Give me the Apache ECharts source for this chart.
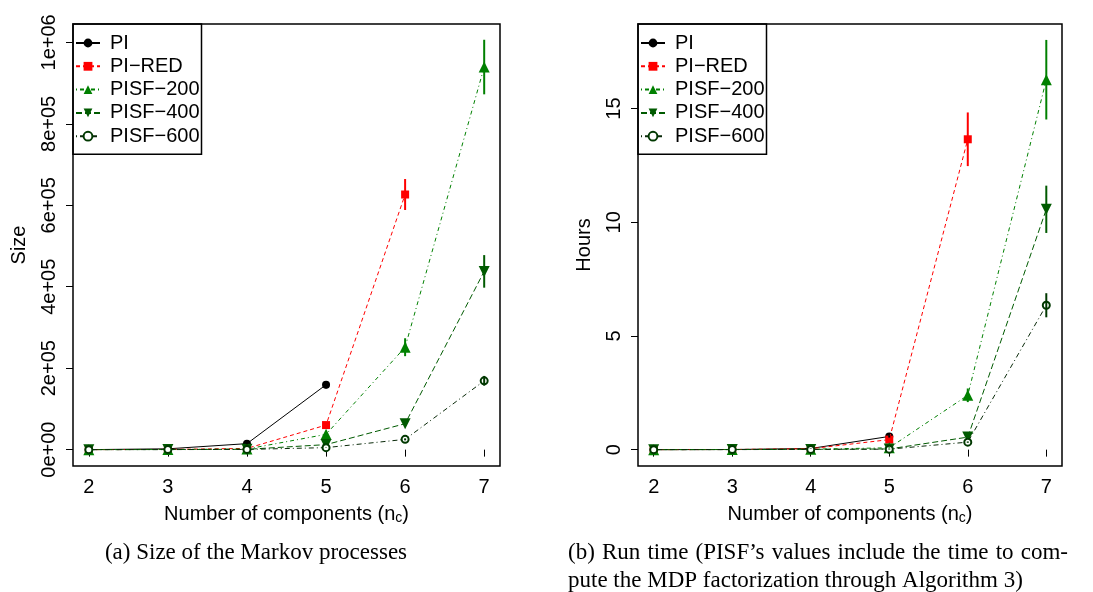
<!DOCTYPE html>
<html>
<head>
<meta charset="utf-8">
<script src="https://cdn.jsdelivr.net/npm/echarts@6/dist/echarts.min.js"></script>
<style>
html, body { margin: 0; padding: 0; background: #fff; }
#main { width: 1093px; height: 592px; }
</style>
</head>
<body>
<div id="main"></div>
<script>
// number of components
var nc = [2, 3, 4, 5, 6, 7];
var names = ['PI', 'PI\u2212RED', 'PISF\u2212200', 'PISF\u2212400', 'PISF\u2212600'];

// (a) size of the Markov processes
var sizePI = [0, 2000, 14700, 159300];
var sizePIRED = [0, 500, 3000, 60300, 626500];
var sizePISF200 = [0, 300, 1500, 37500, 251500, 939500];
var sizePISF400 = [0, 200, 800, 12300, 63700, 437700];
var sizePISF600 = [0, 100, 500, 4900, 25200, 169000];
var sizeErrPI = [0, 0, 1500, 9000];
var sizeErrPIRED = [0, 0, 0, 4000, 38000];
var sizeErrPISF200 = [0, 0, 0, 3000, 22000, 67000];
var sizeErrPISF400 = [0, 0, 0, 1000, 5000, 40000];
var sizeErrPISF600 = [0, 0, 0, 500, 2500, 12000];
var sizeTicks = [0, 200000, 400000, 600000, 800000, 1000000];

// (b) run time in hours
var hoursPI = [0, 0.005, 0.05, 0.58];
var hoursPIRED = [0, 0.005, 0.04, 0.44, 13.65];
var hoursPISF200 = [0, 0.005, 0.02, 0.08, 2.39, 16.27];
var hoursPISF400 = [0, 0.003, 0.01, 0.03, 0.55, 10.57];
var hoursPISF600 = [0, 0.002, 0.01, 0.02, 0.33, 6.35];
var hoursErrPI = [0, 0, 0.01, 0.05];
var hoursErrPIRED = [0, 0, 0, 0.05, 1.18];
var hoursErrPISF200 = [0, 0, 0, 0.02, 0.3, 1.75];
var hoursErrPISF400 = [0, 0, 0, 0.01, 0.05, 1.04];
var hoursErrPISF600 = [0, 0, 0, 0.01, 0.03, 0.53];
var hoursTicks = [0, 5, 10, 15];

var FONT = 'Liberation Sans';
var SERIF = 'Liberation Serif';

// look of each method
var styles = [
	{ color: '#000000', symbol: 'circle', size: 8, rotate: 0, dash: 'solid' },
	{ color: '#ff0000', symbol: 'rect', size: 8, rotate: 0, dash: [4, 3] },
	{ color: '#008000', symbol: 'triangle', size: 11, rotate: 0, dash: [1, 3, 4, 3] },
	{ color: '#005a00', symbol: 'triangle', size: 11, rotate: 180, dash: [6, 3] },
	{ color: '#0a2a0a', symbol: 'emptyCircle', size: 7, rotate: 0, dash: [1, 3, 5, 3] }
];

var series = [];

function addSeries(idx, vals, errs, g) {
	var st = styles[idx];
	var hollow = st.symbol == 'emptyCircle';
	series.push({
		name: names[idx],
		type: 'line',
		xAxisIndex: g,
		yAxisIndex: g,
		data: vals.map(function(v, i) { return [nc[i], v]; }),
		symbol: st.symbol,
		symbolSize: st.size,
		symbolRotate: st.rotate,
		showSymbol: true,
		lineStyle: { color: st.color, width: 1, type: st.dash },
		itemStyle: hollow ? { color: '#003800', borderColor: '#003800', borderWidth: 1.6 } : { color: st.color },
		z: 2 + idx * 0.01,
		animation: false,
		silent: true
	});
	var bars = [];
	for (var i = 0; i < vals.length; i++) {
		if (errs[i] > 0) {
			bars.push([nc[i], vals[i] - errs[i], vals[i] + errs[i]]);
		}
	}
	series.push({
		type: 'custom',
		xAxisIndex: g,
		yAxisIndex: g,
		data: bars,
		z: 3,
		silent: true,
		animation: false,
		renderItem: function(params, api) {
			var lo = api.coord([api.value(0), api.value(1)]);
			var hi = api.coord([api.value(0), api.value(2)]);
			return {
				type: 'line',
				shape: { x1: lo[0], y1: lo[1], x2: hi[0], y2: hi[1] },
				style: { stroke: hollow ? '#003800' : st.color, lineWidth: 2 }
			};
		}
	});
}

addSeries(0, sizePI, sizeErrPI, 0);
addSeries(1, sizePIRED, sizeErrPIRED, 0);
addSeries(2, sizePISF200, sizeErrPISF200, 0);
addSeries(3, sizePISF400, sizeErrPISF400, 0);
addSeries(4, sizePISF600, sizeErrPISF600, 0);
addSeries(0, hoursPI, hoursErrPI, 1);
addSeries(1, hoursPIRED, hoursErrPIRED, 1);
addSeries(2, hoursPISF200, hoursErrPISF200, 1);
addSeries(3, hoursPISF400, hoursErrPISF400, 1);
addSeries(4, hoursPISF600, hoursErrPISF600, 1);

// R style scientific labels, 2e+05
function sci(v) {
	if (v === 0) return '0e+00';
	var e = Math.floor(Math.log10(v) + 1e-9);
	var m = Math.round(v / Math.pow(10, e));
	return m + 'e+' + (e < 10 ? '0' + e : e);
}

function xAxis(g) {
	return {
		type: 'value',
		gridIndex: g,
		min: 1.8,
		max: 7.2,
		axisLine: { show: false },
		splitLine: { show: false },
		axisTick: { show: true, length: 7, customValues: nc, lineStyle: { color: '#000', width: 1 } },
		axisLabel: { customValues: nc, fontSize: 20, fontFamily: FONT, color: '#000', margin: 11 },
		name: '{a|Number of components (n}{s|c}{a|)}',
		nameLocation: 'middle',
		nameGap: 37,
		nameTextStyle: {
			rich: {
				a: { fontSize: 20, fontFamily: FONT, color: '#000' },
				s: { fontSize: 14, fontFamily: FONT, color: '#000', verticalAlign: 'bottom', padding: [8, 0, 0, 0] }
			}
		}
	};
}

function yAxis(g, min, max, ticks, fmt, title) {
	return {
		type: 'value',
		gridIndex: g,
		min: min,
		max: max,
		axisLine: { show: false },
		splitLine: { show: false },
		axisTick: { show: true, length: 7, customValues: ticks, lineStyle: { color: '#000', width: 1 } },
		axisLabel: { customValues: ticks, rotate: 90, formatter: fmt, fontSize: 20, fontFamily: FONT, color: '#000', margin: 14 },
		name: title,
		nameLocation: 'middle',
		nameRotate: 90,
		nameGap: 44,
		nameTextStyle: { fontSize: 20, fontFamily: FONT, color: '#000' }
	};
}

function legend(left) {
	return {
		data: names,
		orient: 'vertical',
		left: left,
		top: 24,
		itemWidth: 24,
		itemHeight: 11,
		itemGap: 3.3,
		padding: [9, 2, 8, 2],
		borderColor: '#000',
		borderWidth: 1.5,
		selectedMode: false,
		textStyle: { fontSize: 20, fontFamily: FONT, color: '#000', lineHeight: 20, padding: [0, 0, 0, 5] }
	};
}

// caption of panel (b) is justified on its first line
var ctx = document.createElement('canvas').getContext('2d');
ctx.font = '23px "' + SERIF + '"';
var capLine1 = '(b) Run time (PISF\u2019s values include the time to com-'.split(' ');
var wordsW = 0;
capLine1.forEach(function(w) { wordsW += ctx.measureText(w).width; });
var gap = (500 - wordsW) / (capLine1.length - 1);
var graphics = [
	{ type: 'text', x: 256, y: 553, style: { text: '(a) Size of the Markov processes', fontSize: 23, fontFamily: SERIF, fill: '#000', textAlign: 'center', textVerticalAlign: 'middle' } },
	{ type: 'text', x: 568, y: 581, style: { text: 'pute the MDP factorization through Algorithm 3)', fontSize: 23, fontFamily: SERIF, fill: '#000', textAlign: 'left', textVerticalAlign: 'middle' } }
];
var cx = 568;
capLine1.forEach(function(w) {
	graphics.push({ type: 'text', x: cx, y: 553, style: { text: w, fontSize: 23, fontFamily: SERIF, fill: '#000', textAlign: 'left', textVerticalAlign: 'middle' } });
	cx += ctx.measureText(w).width + gap;
});

var chart = echarts.init(document.getElementById('main'), null, { renderer: 'canvas' });
chart.setOption({
	animation: false,
	backgroundColor: '#fff',
	grid: [
		{ left: 73, top: 24, width: 427, height: 442, show: true, borderColor: '#000', borderWidth: 1.5, backgroundColor: 'transparent' },
		{ left: 638, top: 24, width: 424, height: 442, show: true, borderColor: '#000', borderWidth: 1.5, backgroundColor: 'transparent' }
	],
	xAxis: [xAxis(0), xAxis(1)],
	yAxis: [
		yAxis(0, -40200, 1045200, sizeTicks, sci, 'Size'),
		yAxis(1, -0.72, 18.72, hoursTicks, function(v) { return String(v); }, 'Hours')
	],
	legend: [legend(73), legend(638)],
	graphic: graphics,
	series: series
});
</script>
</body>
</html>
